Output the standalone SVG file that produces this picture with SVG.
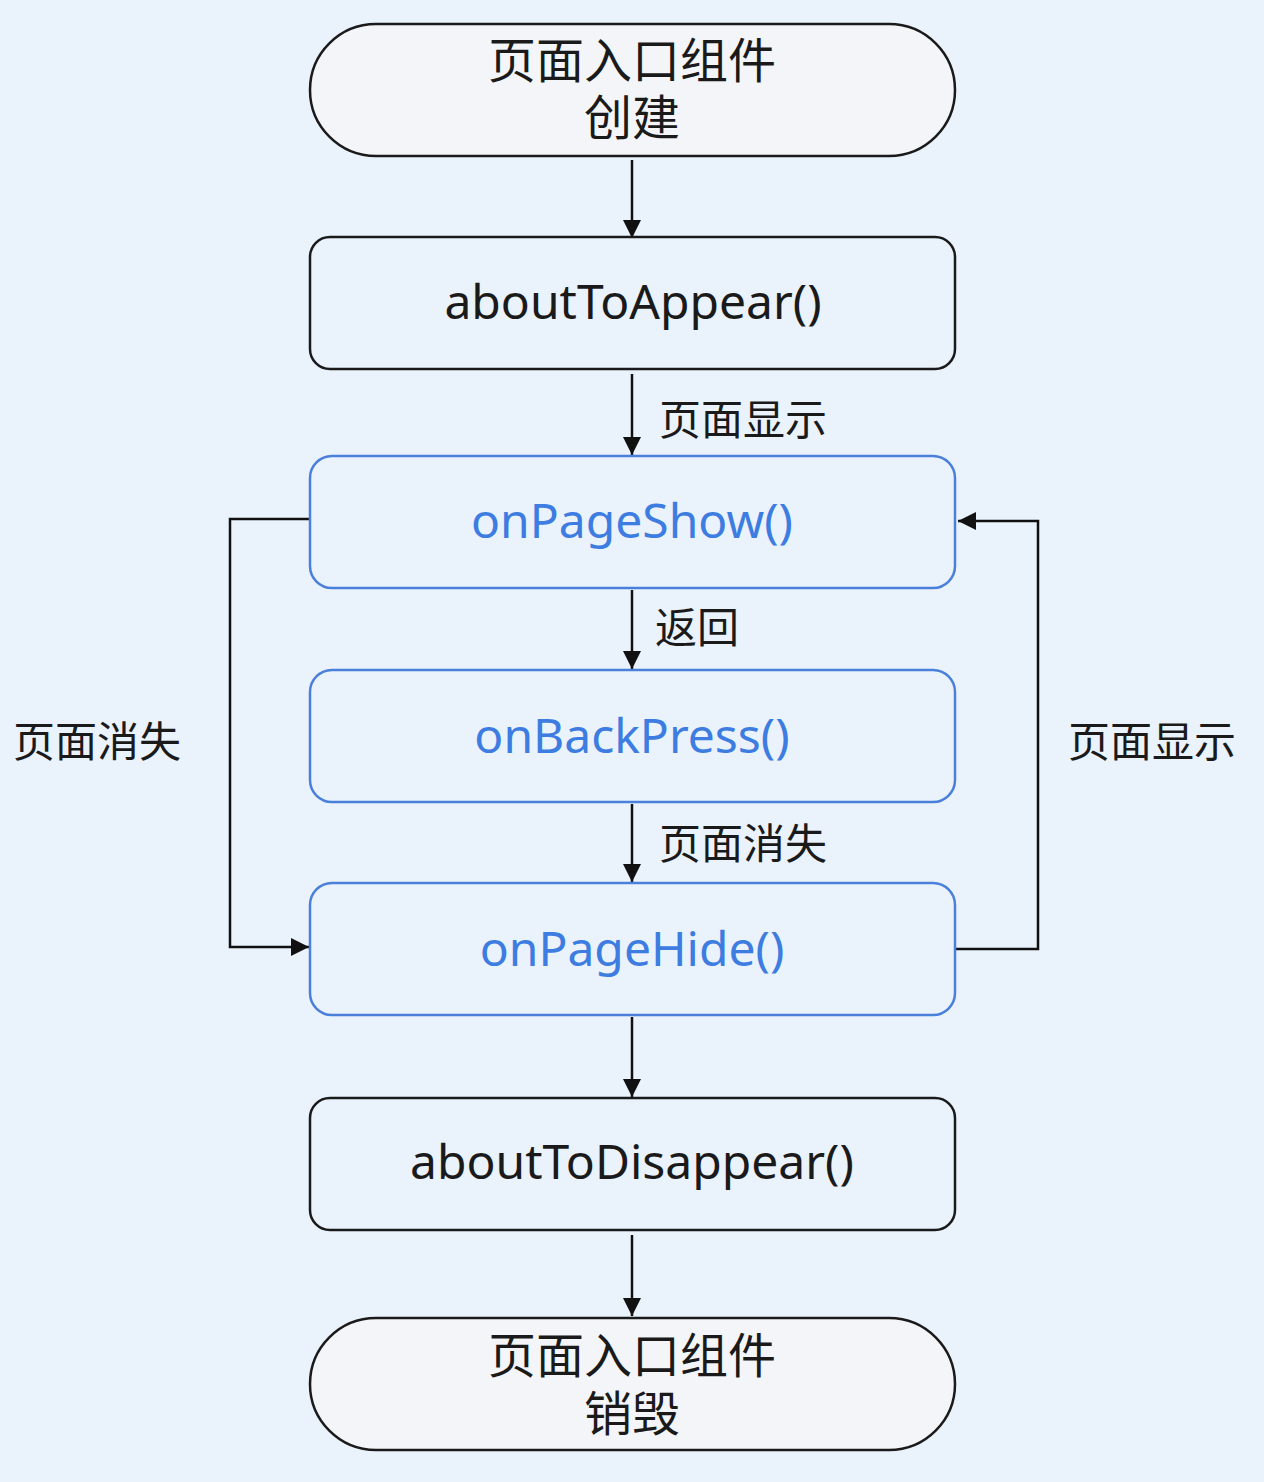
<svg xmlns="http://www.w3.org/2000/svg" width="1264" height="1482" viewBox="0 0 1264 1482">
<defs>
<marker id="ah" viewBox="0 0 10 10" refX="10" refY="5" markerWidth="18" markerHeight="18" markerUnits="userSpaceOnUse" orient="auto">
<path d="M0,0 L10,5 L0,10 z" fill="#111"/>
</marker>
<style>
.term{fill:#F3F5F8;stroke:#1a1a1a;stroke-width:2.5}
.box{fill:#EAF2FC;stroke:#1a1a1a;stroke-width:2.5}
.bbox{fill:#EAF2FC;stroke:#4A80DA;stroke-width:2.5}
.t{font-family:"Noto Sans","Noto Sans CJK SC",sans-serif;font-size:48px;fill:#1a1a1a;text-anchor:middle}
.tb{font-family:"Noto Sans","Noto Sans CJK SC",sans-serif;font-size:48px;fill:#3D7CE0;text-anchor:middle}
.c{font-family:"Noto Sans CJK SC",sans-serif;font-size:48px;fill:#1a1a1a;text-anchor:middle}
.l{font-family:"Noto Sans CJK SC",sans-serif;font-size:42px;fill:#1a1a1a}
.e{fill:none;stroke:#111;stroke-width:2.5}
</style>
</defs>
<rect width="1264" height="1482" fill="#EAF2FC"/>
<g id="connectors">
<line class="e" x1="632" y1="160" x2="632" y2="238" marker-end="url(#ah)"/>
<line class="e" x1="632" y1="374" x2="632" y2="455" marker-end="url(#ah)"/>
<line class="e" x1="632" y1="590" x2="632" y2="669" marker-end="url(#ah)"/>
<line class="e" x1="632" y1="804" x2="632" y2="882" marker-end="url(#ah)"/>
<line class="e" x1="632" y1="1017" x2="632" y2="1097" marker-end="url(#ah)"/>
<line class="e" x1="632" y1="1235" x2="632" y2="1316" marker-end="url(#ah)"/>
<polyline class="e" points="312,519 230,519 230,947 309,947" marker-end="url(#ah)"/>
<polyline class="e" points="956,949 1038,949 1038,521 958,521" marker-end="url(#ah)"/>
<text class="l" x="659" y="435">页面显示</text>
<text class="l" x="655" y="643">返回</text>
<text class="l" x="659" y="859">页面消失</text>
<text class="l" x="13" y="757">页面消失</text>
<text class="l" x="1068" y="757">页面显示</text>
</g>
<g id="start">
<rect class="term" x="310" y="24" width="645" height="132" rx="66"/>
<text class="c" x="632" y="78">页面入口组件</text>
<text class="c" x="632" y="135">创建</text>
</g>
<g id="aboutToAppear">
<rect class="box" x="310" y="237" width="645" height="132" rx="20"/>
<text class="t" x="633" y="319">aboutToAppear()</text>
</g>
<g id="onPageShow">
<rect class="bbox" x="310" y="456" width="645" height="132" rx="22"/>
<text class="tb" x="632" y="538">onPageShow()</text>
</g>
<g id="onBackPress">
<rect class="bbox" x="310" y="670" width="645" height="132" rx="22"/>
<text class="tb" x="632" y="753">onBackPress()</text>
</g>
<g id="onPageHide">
<rect class="bbox" x="310" y="883" width="645" height="132" rx="22"/>
<text class="tb" x="632" y="966">onPageHide()</text>
</g>
<g id="aboutToDisappear">
<rect class="box" x="310" y="1098" width="645" height="132" rx="20"/>
<text class="t" x="632" y="1179">aboutToDisappear()</text>
</g>
<g id="end">
<rect class="term" x="310" y="1318" width="645" height="132" rx="66"/>
<text class="c" x="632" y="1373">页面入口组件</text>
<text class="c" x="632" y="1431">销毁</text>
</g>
</svg>
